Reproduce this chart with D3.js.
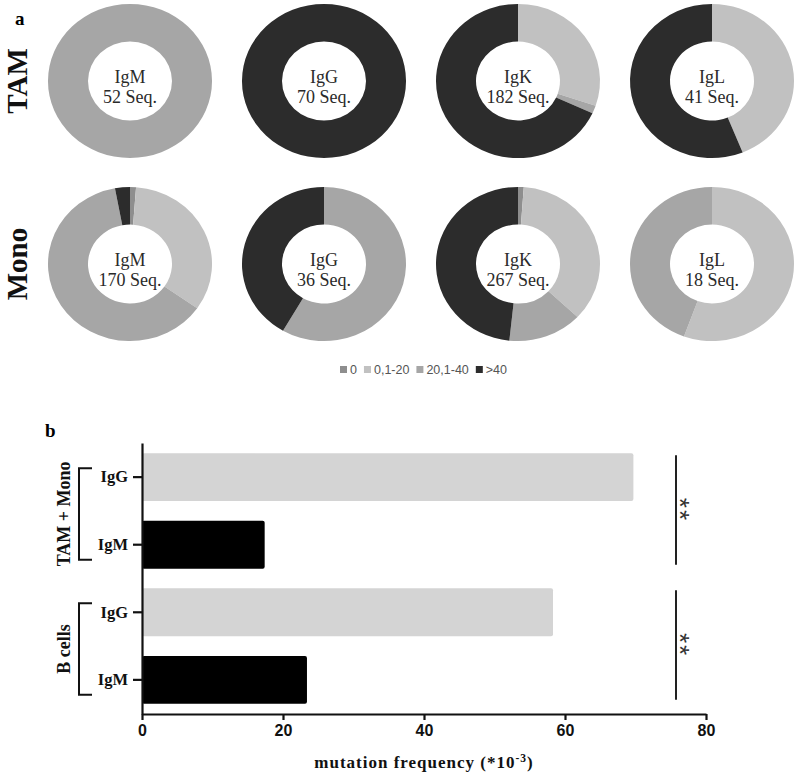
<!DOCTYPE html>
<html><head><meta charset="utf-8">
<script src="https://cdn.jsdelivr.net/npm/d3@7"></script>
<style>body{margin:0;background:#fff}svg{display:block}</style>
</head><body>
<svg id="chart" width="797" height="776"></svg>
<script>
// ---- data ----
const donutRows = ["TAM", "Mono"];
const isotypes = ["IgM", "IgG", "IgK", "IgL"];
const mutCategories = ["0", "0,1-20", "20,1-40", ">40"];
const catColors = ["#8e8e8e", "#c1c1c1", "#a6a6a6", "#2c2c2c"];
const tamSeqTotals = [52, 70, 182, 41];
const monoSeqTotals = [170, 36, 267, 18];
// sequence counts per mutation category (0, 0,1-20, 20,1-40, >40)
const tamCounts = [[0, 0, 52, 0], [0, 0, 0, 70], [0, 55, 3, 124], [0, 18, 0, 23]];
const monoCounts = [[2, 57, 106, 5], [0, 0, 21, 15], [3, 96, 39, 129], [0, 10, 8, 0]];

const barGroups = ["TAM + Mono", "B cells"];
const barIsotypes = ["IgG", "IgM"];
const tamMonoFreq = [69.7, 17.4];
const bCellFreq = [58.3, 23.4];
const barColors = {IgG: "#d4d4d4", IgM: "#000000"};
const xTicks = [0, 20, 40, 60, 80];
const sigLabel = "**";

// ---- panel a ----
const svg = d3.select("#chart");
const serif = "'Liberation Serif','Times New Roman',serif";
const sans = "'Liberation Sans',Arial,sans-serif";

svg.append("text").attr("x", 15).attr("y", 25).text("a")
  .attr("font-family", serif).attr("font-weight", "bold").attr("font-size", 19);

const colX = d3.scalePoint().domain(isotypes).range([130, 712]);
const rowY = d3.scalePoint().domain(donutRows).range([81, 264]);
const color = d3.scaleOrdinal().domain(mutCategories).range(catColors);
const pie = d3.pie().sort(null).value(d => d.v);
const arc = d3.arc().innerRadius(42).outerRadius(82);
const yStretch = 0.94;

const rowData = [
  {row: "TAM", counts: tamCounts, totals: tamSeqTotals},
  {row: "Mono", counts: monoCounts, totals: monoSeqTotals}
];

rowData.forEach(r => {
  svg.append("text")
    .attr("transform", `translate(27,${rowY(r.row)}) rotate(-90)`)
    .attr("text-anchor", "middle")
    .attr("font-family", serif).attr("font-weight", "bold").attr("font-size", 29)
    .attr("fill", "#111").text(r.row);
  isotypes.forEach((iso, i) => {
    const cx = colX(iso), cy = rowY(r.row);
    const g = svg.append("g").attr("transform", `translate(${cx},${cy}) scale(1,${yStretch})`);
    const dat = mutCategories.map((c, k) => ({c, v: r.counts[i][k]}));
    g.selectAll("path").data(pie(dat)).join("path")
      .attr("d", arc).attr("fill", d => color(d.data.c));
    const t = svg.append("text").attr("text-anchor", "middle")
      .attr("font-family", serif).attr("font-size", 18).attr("fill", "#2a2a2a");
    t.append("tspan").attr("x", cx).attr("y", cy + 1.5).text(iso);
    t.append("tspan").attr("x", cx).attr("y", cy + 21.5).text(r.totals[i] + " Seq.");
  });
});

// legend
const leg = svg.append("g").attr("transform", "translate(340,370)");
let lx = 0;
mutCategories.forEach(c => {
  leg.append("rect").attr("x", lx).attr("y", -4).attr("width", 7).attr("height", 7).attr("fill", color(c));
  const t = leg.append("text").attr("x", lx + 10).attr("y", 3.5)
    .attr("font-family", sans).attr("font-size", 12.5).attr("fill", "#555").text(c);
  lx += 10 + t.node().getComputedTextLength() + 7;
});

// ---- panel b ----
svg.append("text").attr("x", 45).attr("y", 437).text("b")
  .attr("font-family", serif).attr("font-weight", "bold").attr("font-size", 19);

const barRows = [];
barGroups.forEach((g, gi) => barIsotypes.forEach((iso, ii) => {
  barRows.push({key: g + "|" + iso, group: g, iso, v: (gi === 0 ? tamMonoFreq : bCellFreq)[ii]});
}));

const x = d3.scaleLinear().domain([0, 80]).range([142, 706]);
const y = d3.scaleBand().domain(barRows.map(d => d.key)).range([443, 714])
  .paddingInner(0.29).paddingOuter(0.15);

svg.append("g").selectAll("rect").data(barRows).join("rect")
  .attr("x", x(0)).attr("y", d => y(d.key))
  .attr("width", d => x(d.v) - x(0)).attr("height", y.bandwidth())
  .attr("rx", 2).attr("fill", d => barColors[d.iso]);

const xAxis = svg.append("g").attr("transform", "translate(0,714)")
  .call(d3.axisBottom(x).tickValues(xTicks).tickSize(6).tickSizeOuter(0).tickPadding(5));
xAxis.select(".domain").attr("stroke-width", 2.2).attr("stroke", "#111");
xAxis.selectAll(".tick line").attr("stroke-width", 2.2).attr("stroke", "#111");
xAxis.selectAll("text").attr("font-family", sans).attr("font-weight", "bold")
  .attr("font-size", 16).attr("fill", "#111");

const yAxis = svg.append("g").attr("transform", "translate(142,0)")
  .call(d3.axisLeft(y).tickSize(9).tickSizeOuter(0).tickPadding(5).tickFormat(k => k.split("|")[1]));
yAxis.select(".domain").attr("stroke-width", 2.2).attr("stroke", "#111");
yAxis.selectAll(".tick line").attr("stroke-width", 2.2).attr("stroke", "#111");
yAxis.selectAll("text").attr("font-family", serif).attr("font-weight", "bold")
  .attr("font-size", 16.5).attr("fill", "#111");

svg.append("text").attr("x", 424).attr("y", 768).attr("text-anchor", "middle")
  .attr("font-family", serif).attr("font-weight", "bold").attr("font-size", 17)
  .attr("letter-spacing", 1).attr("fill", "#111")
  .html('mutation frequency (*10<tspan dy="-6" font-size="11.5">-3</tspan><tspan dy="6">)</tspan>');

// group brackets & labels
barGroups.forEach(g => {
  const keys = barRows.filter(d => d.group === g).map(d => d.key);
  const y0 = y(keys[0]) + 15, y1 = y(keys[keys.length - 1]) + y.bandwidth() - 9;
  svg.append("path").attr("d", `M92,${y0}H79V${y1}H92`)
    .attr("fill", "none").attr("stroke", "#111").attr("stroke-width", 2);
  svg.append("text").attr("transform", `translate(70,${(y0 + y1) / 2}) rotate(-90)`)
    .attr("text-anchor", "middle").attr("font-family", serif).attr("font-weight", "bold")
    .attr("font-size", 18).attr("fill", "#111").text(g);
  // significance
  const s0 = y(keys[0]) + 2, s1 = y(keys[keys.length - 1]) + y.bandwidth() - 4;
  svg.append("line").attr("x1", 676).attr("x2", 676).attr("y1", s0).attr("y2", s1)
    .attr("stroke", "#222").attr("stroke-width", 2);
  const mid = (s0 + s1) / 2;
  svg.append("text").attr("transform", `translate(671,${mid}) rotate(90)`)
    .attr("text-anchor", "middle").attr("font-family", sans).attr("font-size", 26)
    .attr("letter-spacing", 2).attr("fill", "#333").text(sigLabel);
});
</script>
</body></html>
